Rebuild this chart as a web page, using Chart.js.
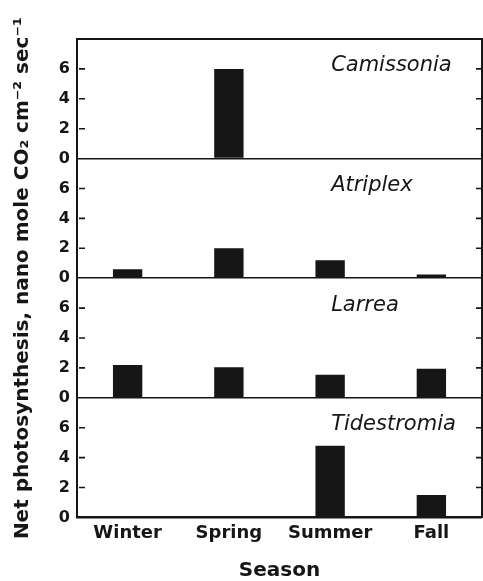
<!DOCTYPE html>
<html>
<head>
<meta charset="utf-8">
<script src="https://cdn.jsdelivr.net/npm/chart.js@4.4.1/dist/chart.umd.min.js"></script>
<style>
  html, body { margin: 0; padding: 0; background: #fff; }
  #wrap { width: 483px; height: 581px; }
</style>
</head>
<body>
<div id="wrap"><canvas id="chart"></canvas></div>
<script>
const seasons = ['Winter', 'Spring', 'Summer', 'Fall'];
const species = ['Camissonia', 'Atriplex', 'Larrea', 'Tidestromia'];

// net photosynthesis per panel, nano mole CO2 cm-2 sec-1 (null = no bar)
const camissonia = [null, 6.0, null, null];
const atriplex = [0.6, 2.0, 1.2, 0.25];
const larrea = [2.2, 2.05, 1.55, 1.95];
const tidestromia = [null, null, 4.8, 1.5];
const seriesValues = [camissonia, atriplex, larrea, tidestromia];

const yTicks = [0, 2, 4, 6];
const yMax = 8;

const ink = '#161616';
const font = '"DejaVu Sans", sans-serif';

// one left-side scale per panel, stacked on top of each other
function panelScale() {
  return {
    type: 'linear',
    position: 'left',
    stack: 'panels',
    stackWeight: 1,
    min: 0,
    max: yMax,
    afterBuildTicks: s => { s.ticks = yTicks.map(v => ({ value: v })); },
    afterFit: s => { s.width = 40; },
    border: { display: true, color: ink, width: 2 },
    grid: {
      drawTicks: false,
      lineWidth: 1.6,
      color: c => (c.tick && c.tick.value === 0 ? ink : 'rgba(0,0,0,0)')
    },
    ticks: { padding: 7, color: ink, font: { family: font, size: 16, weight: 'bold' } }
  };
}

// inward tick marks on both sides plus the species name in each panel
const panelDecor = {
  id: 'panelDecor',
  afterDraw(chart) {
    const { ctx, chartArea, scales } = chart;
    ctx.save();
    ctx.strokeStyle = ink;
    ctx.fillStyle = ink;
    ctx.lineWidth = 1.6;
    species.forEach((name, i) => {
      const s = scales['y' + i];
      yTicks.forEach(v => {
        if (v === 0) return;
        const y = s.getPixelForValue(v);
        ctx.beginPath();
        ctx.moveTo(chartArea.left + 2, y);
        ctx.lineTo(chartArea.left + 8, y);
        ctx.moveTo(chartArea.right - 6, y);
        ctx.lineTo(chartArea.right, y);
        ctx.stroke();
      });
      ctx.font = 'italic 21px ' + font;
      ctx.textAlign = 'left';
      ctx.textBaseline = 'middle';
      ctx.fillText(name, scales.x.getPixelForValue(2) + 1, s.getPixelForValue(6.2));
    });
    ctx.restore();
  }
};

const scales = {
  x: {
    type: 'category',
    position: 'bottom',
    border: { display: true, color: ink, width: 2 },
    grid: { display: false, drawTicks: false },
    ticks: { padding: 5, color: ink, font: { family: font, size: 18, weight: 'bold' } },
    title: {
      display: true,
      text: 'Season',
      color: ink,
      padding: { top: 12, bottom: 0 },
      font: { family: font, size: 20, weight: 'bold', lineHeight: 1 }
    }
  },
  xTop: {
    type: 'category',
    position: 'top',
    afterFit: s => { s.height = 0; },
    border: { display: true, color: ink, width: 2 },
    grid: { display: false, drawTicks: false },
    ticks: { display: false }
  },
  yTitle: {
    type: 'linear',
    position: 'left',
    weight: 10,
    min: 0,
    max: 1,
    afterFit: s => { s.width = 32; },
    border: { display: false },
    grid: { display: false, drawTicks: false },
    ticks: { display: false },
    title: {
      display: true,
      text: 'Net photosynthesis, nano mole CO\u2082 cm\u207B\u00B2 sec\u207B\u00B9',
      color: ink,
      padding: { top: 6, bottom: 0 },
      font: { family: font, size: 20, weight: 'bold' }
    }
  },
  yRight: {
    type: 'linear',
    position: 'right',
    min: 0,
    max: 1,
    afterFit: s => { s.width = 0; },
    border: { display: true, color: ink, width: 2 },
    grid: { display: false, drawTicks: false },
    ticks: { display: false }
  }
};
// defined bottom panel first so the first species ends up on top
for (let i = species.length - 1; i >= 0; i--) scales['y' + i] = panelScale();

new Chart(document.getElementById('chart'), {
  type: 'bar',
  data: {
    labels: seasons,
    datasets: species.map((name, i) => ({
      label: name,
      data: seriesValues[i],
      yAxisID: 'y' + i,
      xAxisID: 'x',
      grouped: false,
      backgroundColor: ink,
      borderWidth: 0,
      barPercentage: 0.29,
      categoryPercentage: 1
    }))
  },
  options: {
    responsive: true,
    maintainAspectRatio: false,
    animation: false,
    layout: { padding: { top: 39, right: 1, bottom: 0, left: 5 } },
    plugins: { legend: { display: false }, tooltip: { enabled: false } },
    scales
  },
  plugins: [panelDecor]
});
</script>
</body>
</html>
